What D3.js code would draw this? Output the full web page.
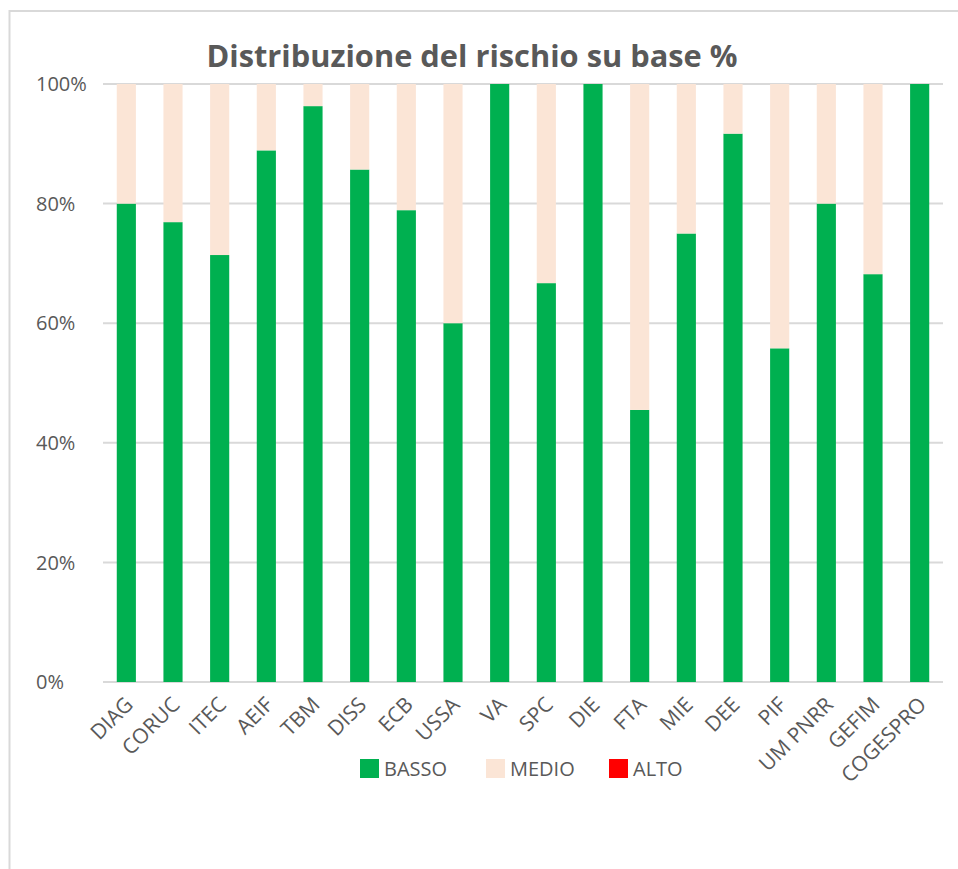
<!DOCTYPE html>
<html lang="it">
<head>
    <meta charset="UTF-8">
    <title>Distribuzione del rischio su base %</title>
    <script src="https://d3js.org/d3.v7.min.js"></script>
    <style>
        body { margin: 0; background: #fff; }
        text { font-family: "Open Sans", sans-serif; fill: #595959; }
    </style>
</head>
<body>
<div id="chart"></div>
<script>
    // Data (percentages)
    const categories = ["DIAG", "CORUC", "ITEC", "AEIF", "TBM", "DISS", "ECB", "USSA", "VA",
        "SPC", "DIE", "FTA", "MIE", "DEE", "PIF", "UM PNRR", "GEFIM", "COGESPRO"];
    const basso = [80, 76.9, 71.4, 88.9, 96.3, 85.7, 78.9, 60, 100,
        66.7, 100, 45.5, 75, 91.7, 55.8, 80, 68.2, 100];
    const medio = [20, 23.1, 28.6, 11.1, 3.7, 14.3, 21.1, 40, 0,
        33.3, 0, 54.5, 25, 8.3, 44.2, 20, 31.8, 0];
    const alto = [0, 0, 0, 0, 0, 0, 0, 0, 0, 0, 0, 0, 0, 0, 0, 0, 0, 0];
    const seriesNames = ["BASSO", "MEDIO", "ALTO"];
    const seriesColors = ["#00B050", "#FBE5D6", "#FF0000"];
    const yTicks = [0, 20, 40, 60, 80, 100];

    const width = 958, height = 869;
    const margin = { top: 84, right: 15, bottom: 187, left: 103 };

    const svg = d3.select("#chart").append("svg")
        .attr("width", width)
        .attr("height", height);

    // chart area border (runs off the right and bottom edge)
    svg.append("rect")
        .attr("x", 9.5).attr("y", 11)
        .attr("width", 1000).attr("height", 900)
        .attr("fill", "none")
        .attr("stroke", "#D9D9D9")
        .attr("stroke-width", 2);

    const rows = categories.map((c, i) => ({ cat: c, BASSO: basso[i], MEDIO: medio[i], ALTO: alto[i] }));

    const x = d3.scaleBand()
        .domain(categories)
        .range([margin.left, width - margin.right])
        .paddingInner(0.59)
        .paddingOuter(0.295);

    const y = d3.scaleLinear()
        .domain([0, 100])
        .range([height - margin.bottom, margin.top]);

    // gridlines
    svg.append("g")
        .selectAll("line")
        .data(yTicks)
        .join("line")
        .attr("x1", margin.left)
        .attr("x2", width - margin.right)
        .attr("y1", d => y(d))
        .attr("y2", d => y(d))
        .attr("stroke", "#D9D9D9")
        .attr("stroke-width", 2);

    // y labels (left aligned like the original)
    svg.append("g")
        .selectAll("text")
        .data(yTicks)
        .join("text")
        .attr("x", 36)
        .attr("y", d => y(d))
        .attr("dy", "0.36em")
        .style("font-size", "20px")
        .text(d => d + "%");

    // stacked bars
    const stack = d3.stack().keys(seriesNames);
    const color = d3.scaleOrdinal(seriesNames, seriesColors);

    svg.append("g")
        .selectAll("g")
        .data(stack(rows))
        .join("g")
        .attr("fill", d => color(d.key))
        .selectAll("rect")
        .data(d => d)
        .join("rect")
        .attr("x", d => x(d.data.cat))
        .attr("y", d => y(d[1]))
        .attr("width", x.bandwidth())
        .attr("height", d => y(d[0]) - y(d[1]));

    // x labels rotated -45
    svg.append("g")
        .selectAll("text")
        .data(categories)
        .join("text")
        .attr("text-anchor", "end")
        .attr("transform", d => `translate(${x(d) + x.bandwidth() / 2 + 8},${y(0) + 24}) rotate(-45)`)
        .style("font-size", "21px")
        .text(d => d);

    // title
    svg.append("text")
        .attr("x", 472)
        .attr("y", 67)
        .attr("text-anchor", "middle")
        .attr("textLength", 531)
        .attr("lengthAdjust", "spacingAndGlyphs")
        .style("font-size", "31px")
        .style("font-weight", "bold")
        .text("Distribuzione del rischio su base %");

    // legend
    const legendX = [360, 486, 609];
    const legend = svg.append("g")
        .selectAll("g")
        .data(seriesNames)
        .join("g")
        .attr("transform", (d, i) => `translate(${legendX[i]},759)`);

    legend.append("rect")
        .attr("width", 19)
        .attr("height", 19)
        .attr("fill", d => color(d));

    legend.append("text")
        .attr("x", 24)
        .attr("y", 9.5)
        .attr("dy", "0.36em")
        .style("font-size", "20px")
        .text(d => d);
</script>
</body>
</html>
